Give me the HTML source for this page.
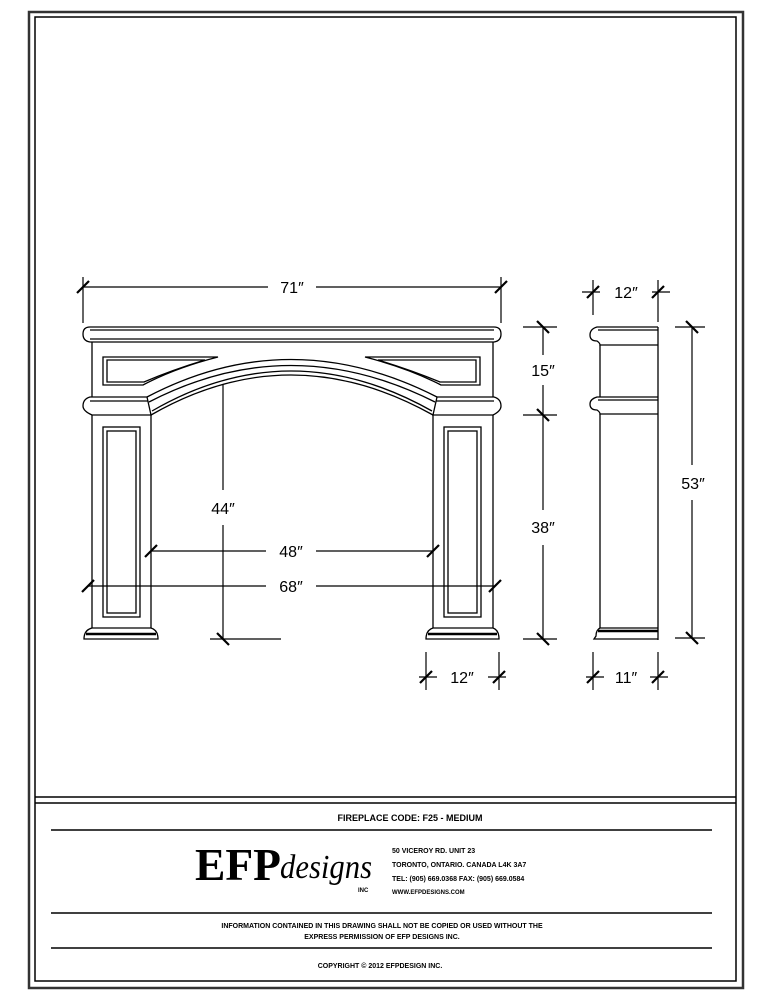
<!DOCTYPE html>
<html><head><meta charset="utf-8">
<style>
html,body{margin:0;padding:0;background:#fff;}
svg{display:block;}
text{font-family:"Liberation Sans",sans-serif;fill:#000;}
</style></head>
<body>
<svg width="773" height="1000" viewBox="0 0 773 1000" xmlns="http://www.w3.org/2000/svg">
<g fill="none" stroke="#000">
<!-- border -->
<rect x="29" y="12" width="714" height="976" stroke-width="2.5" stroke="#333"/>
<rect x="35" y="17" width="701" height="964" stroke-width="1.5"/>
<line x1="35" y1="797" x2="736" y2="797" stroke-width="1.5"/>
<line x1="35" y1="803" x2="736" y2="803" stroke-width="1.5"/>
<line x1="51" y1="830" x2="712" y2="830" stroke-width="1.5"/>
<line x1="51" y1="913" x2="712" y2="913" stroke-width="1.5"/>
<line x1="51" y1="948" x2="712" y2="948" stroke-width="1.5"/>

<!-- FRONT VIEW -->
<g stroke-width="1.3">
<!-- mantel shelf -->
<path d="M90 327 H494 Q501 327 501 334 Q501 341 494 342 H90 Q83 341 83 334 Q83 327 90 327 Z"/>
<line x1="90" y1="330" x2="494" y2="330"/>
<line x1="90" y1="339" x2="494" y2="339"/>
<!-- frieze -->
<line x1="92" y1="342" x2="92" y2="397"/>
<line x1="493" y1="342" x2="493" y2="397"/>
<!-- panels -->
<path d="M103 357 H218 Q175 368 143 385 H103 Z"/>
<path d="M107 360 H205 Q172 370 144 382 H107 Z"/>
<path d="M480 357 H365 Q408 368 441 385 H480 Z"/>
<path d="M476 360 H378 Q411 370 440 382 H476 Z"/>
<!-- second molding -->
<path d="M90 397 H147 L151 415 H92 Q83 411 83 406 Q83 399 90 397 Z"/>
<line x1="90" y1="401" x2="148" y2="401"/>
<path d="M494 397 H437 L433 415 H493 Q501 411 501 406 Q501 399 494 397 Z"/>
<line x1="494" y1="401" x2="436" y2="401"/>
<!-- arch -->
<path d="M147 397 Q290 322 437 397"/>
<path d="M149 402 Q290 329 435 402"/>
<path d="M151 415 Q290 335 433 415"/>
<path d="M152 411 Q290 331 432 411"/>
<!-- legs -->
<line x1="92" y1="415" x2="92" y2="628"/>
<line x1="151" y1="415" x2="151" y2="628"/>
<line x1="433" y1="415" x2="433" y2="628"/>
<line x1="493" y1="415" x2="493" y2="628"/>
<rect x="103" y="427" width="37" height="190"/>
<rect x="107" y="431" width="29" height="182"/>
<rect x="444" y="427" width="37" height="190"/>
<rect x="448" y="431" width="29" height="182"/>
<!-- bases -->
<path d="M92 628 H151 Q158 630 158 639 H84 Q84 630 92 628 Z"/>
<line x1="86" y1="634" x2="156" y2="634" stroke-width="2.5"/>
<path d="M433 628 H493 Q499 630 499 639 H426 Q426 630 433 628 Z"/>
<line x1="428" y1="634" x2="497" y2="634" stroke-width="2.5"/>
</g>

<!-- dimensions front -->
<g stroke-width="1.2">
<line x1="83" y1="277" x2="83" y2="323"/><line x1="501" y1="277" x2="501" y2="323"/>
<line x1="83" y1="287" x2="268" y2="287"/><line x1="316" y1="287" x2="501" y2="287"/>
<line x1="223" y1="385" x2="223" y2="490"/><line x1="223" y1="525" x2="223" y2="639"/>
<line x1="210" y1="639" x2="281" y2="639"/>
<line x1="151" y1="551" x2="266" y2="551"/><line x1="316" y1="551" x2="433" y2="551"/>
<line x1="88" y1="586" x2="266" y2="586"/><line x1="316" y1="586" x2="495" y2="586"/>
<line x1="523" y1="327" x2="557" y2="327"/><line x1="523" y1="415" x2="557" y2="415"/><line x1="523" y1="639" x2="557" y2="639"/>
<line x1="543" y1="327" x2="543" y2="355"/><line x1="543" y1="385" x2="543" y2="510"/><line x1="543" y1="545" x2="543" y2="639"/>
<line x1="426" y1="652" x2="426" y2="690"/><line x1="499" y1="652" x2="499" y2="690"/>
<line x1="419" y1="677" x2="437" y2="677"/><line x1="488" y1="677" x2="506" y2="677"/>
</g>
<g stroke-width="2.2">
<line x1="77" y1="293" x2="89" y2="281"/><line x1="495" y1="293" x2="507" y2="281"/>
<line x1="145" y1="557" x2="157" y2="545"/><line x1="427" y1="557" x2="439" y2="545"/>
<line x1="82" y1="592" x2="94" y2="580"/><line x1="489" y1="592" x2="501" y2="580"/>
<line x1="217" y1="633" x2="229" y2="645"/>
<line x1="537" y1="321" x2="549" y2="333"/><line x1="537" y1="409" x2="549" y2="421"/><line x1="537" y1="633" x2="549" y2="645"/>
<line x1="420" y1="683" x2="432" y2="671"/><line x1="493" y1="683" x2="505" y2="671"/>
</g>

<!-- SIDE VIEW -->
<g stroke-width="1.3">
<line x1="658" y1="327" x2="658" y2="640"/>
<path d="M658 327 H597 Q590 329 590 335 Q590 341 597 341 Q600 343 600 345 H658"/>
<line x1="598" y1="330" x2="658" y2="330"/>
<line x1="600" y1="345" x2="600" y2="397"/>
<path d="M658 397 H597 Q590 399 590 404 Q590 410 597 410 Q600 412 600 414 H658"/>
<line x1="598" y1="400" x2="658" y2="400"/>
<line x1="600" y1="414" x2="600" y2="628"/>
<path d="M600 628 H658 M600 628 Q596 630 596 636 L594 639 H658"/>
<line x1="598" y1="631" x2="658" y2="631" stroke-width="2.5"/>
</g>
<g stroke-width="1.2">
<line x1="593" y1="280" x2="593" y2="315"/><line x1="658" y1="280" x2="658" y2="322"/>
<line x1="582" y1="292" x2="600" y2="292"/><line x1="652" y1="292" x2="670" y2="292"/>
<line x1="675" y1="327" x2="705" y2="327"/><line x1="675" y1="638" x2="705" y2="638"/>
<line x1="692" y1="327" x2="692" y2="465"/><line x1="692" y1="500" x2="692" y2="638"/>
<line x1="593" y1="652" x2="593" y2="690"/><line x1="658" y1="652" x2="658" y2="690"/>
<line x1="586" y1="677" x2="604" y2="677"/><line x1="650" y1="677" x2="668" y2="677"/>
</g>
<g stroke-width="2.2">
<line x1="587" y1="298" x2="599" y2="286"/><line x1="652" y1="298" x2="664" y2="286"/>
<line x1="686" y1="321" x2="698" y2="333"/><line x1="686" y1="632" x2="698" y2="644"/>
<line x1="587" y1="683" x2="599" y2="671"/><line x1="652" y1="683" x2="664" y2="671"/>
</g>
</g>

<!-- dim labels -->
<g font-size="16" text-anchor="middle">
<text x="292" y="293">71″</text>
<text x="223" y="514">44″</text>
<text x="291" y="557">48″</text>
<text x="291" y="592">68″</text>
<text x="543" y="376">15″</text>
<text x="543" y="533">38″</text>
<text x="462" y="683">12″</text>
<text x="626" y="298">12″</text>
<text x="693" y="489">53″</text>
<text x="626" y="683">11″</text>
</g>

<!-- title block text -->
<g font-weight="bold">
<text x="410" y="821" font-size="9" text-anchor="middle">FIREPLACE CODE: F25 - MEDIUM</text>
<text x="392" y="853" font-size="7">50 VICEROY RD. UNIT 23</text>
<text x="392" y="867" font-size="7">TORONTO, ONTARIO. CANADA  L4K 3A7</text>
<text x="392" y="881" font-size="7">TEL: (905) 669.0368  FAX: (905) 669.0584</text>
<text x="392" y="894" font-size="6">WWW.EFPDESIGNS.COM</text>
<text x="382" y="928" font-size="7" text-anchor="middle">INFORMATION CONTAINED IN THIS DRAWING SHALL NOT BE COPIED OR USED WITHOUT THE</text>
<text x="382" y="939" font-size="7" text-anchor="middle">EXPRESS PERMISSION OF EFP DESIGNS INC.</text>
<text x="380" y="968" font-size="7" text-anchor="middle">COPYRIGHT   ©   2012 EFPDESIGN INC.</text>
</g>
<text x="195" y="880" font-family="Liberation Serif" font-weight="bold" font-size="46" textLength="86" lengthAdjust="spacingAndGlyphs" style="font-family:'Liberation Serif',serif">EFP</text>
<text x="280" y="878" font-size="34" font-style="italic" textLength="92" lengthAdjust="spacingAndGlyphs" style="font-family:'Liberation Serif',serif">designs</text>
<text x="358" y="892" font-size="6" font-weight="bold">INC</text>
</svg>
</body></html>
